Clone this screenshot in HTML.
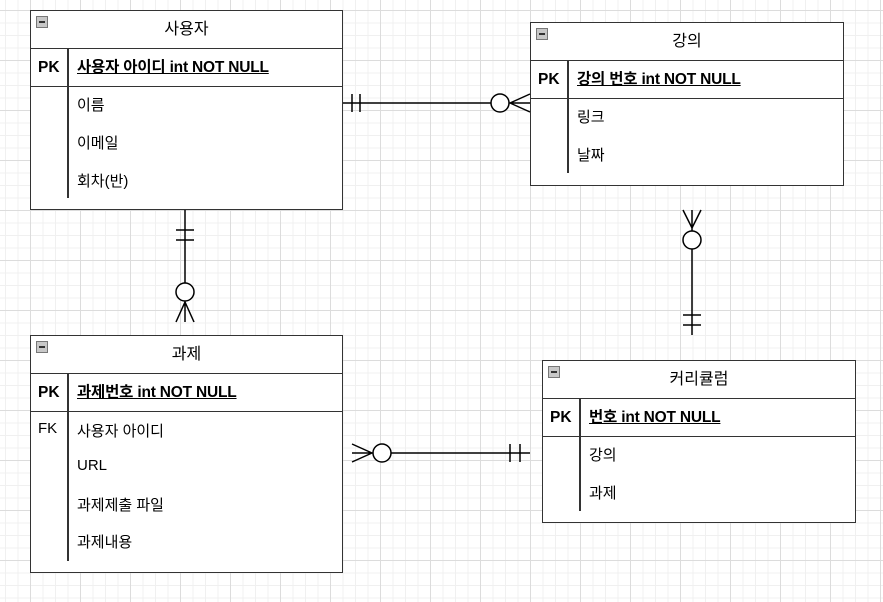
<!DOCTYPE html>
<html><head><meta charset="utf-8"><style>
body{margin:0;width:883px;height:602px;overflow:hidden;background:#fff;
background-image:linear-gradient(#dcdcdc 1px,transparent 1px),linear-gradient(90deg,#dcdcdc 1px,transparent 1px),linear-gradient(#f0f0f0 1px,transparent 1px),linear-gradient(90deg,#f0f0f0 1px,transparent 1px);
background-size:50px 50px,50px 50px,12.5px 12.5px,12.5px 12.5px;background-position:30px 10px,30px 10px,30px 10px,30px 10px;
font-family:"Liberation Sans","Noto Sans CJK KR",sans-serif;font-size:15px;color:#000}
.t{position:absolute;background:#fff;border:1.5px solid #333;box-sizing:border-box}
.h{height:37px;border-bottom:1.5px solid #333;text-align:center;line-height:38px;font-size:16px;position:relative}
.h i{position:absolute;left:5px;top:5px;width:10px;height:10px;border:1px solid #777;background:#c8c8c8}
.h i:after{content:"";position:absolute;left:2px;right:2px;top:4px;height:2px;background:#333}
.pk{height:37px;border-bottom:1.5px solid #333;position:relative;line-height:37px;font-weight:bold;font-size:15.5px}
.pk span{position:absolute;left:7px}
.pk u{position:absolute;left:46px;white-space:nowrap;letter-spacing:-0.2px}
.d{position:absolute;left:36px;width:1.5px;background:#333}
.r{position:absolute;left:46px;white-space:nowrap}
.k{position:absolute;left:7px}
</style></head><body>
<div class="t" style="left:30px;top:10px;width:313px;height:200px">
<div class="h"><i></i>사용자</div>
<div class="pk"><span>PK</span><u>사용자 아이디 int NOT NULL</u></div>
<div class="d" style="top:37px;height:150px"></div>
<div class="r" style="top:83px">이름</div><div class="r" style="top:121px">이메일</div><div class="r" style="top:159px">회차(반)</div>
</div>
<div class="t" style="left:530px;top:22px;width:314px;height:164px">
<div class="h"><i></i>강의</div>
<div class="pk"><span>PK</span><u>강의 번호 int NOT NULL</u></div>
<div class="d" style="top:37px;height:113px"></div>
<div class="r" style="top:83px">링크</div><div class="r" style="top:121px">날짜</div>
</div>
<div class="t" style="left:30px;top:335px;width:313px;height:238px">
<div class="h"><i></i>과제</div>
<div class="pk"><span>PK</span><u>과제번호 int NOT NULL</u></div>
<div class="d" style="top:37px;height:188px"></div>
<div class="k" style="top:84px">FK</div>
<div class="r" style="top:84px">사용자 아이디</div><div class="r" style="top:121px">URL</div><div class="r" style="top:158px">과제제출 파일</div><div class="r" style="top:195px">과제내용</div>
</div>
<div class="t" style="left:542px;top:360px;width:314px;height:163px">
<div class="h"><i></i>커리큘럼</div>
<div class="pk"><span>PK</span><u>번호 int NOT NULL</u></div>
<div class="d" style="top:37px;height:113px"></div>
<div class="r" style="top:83px">강의</div><div class="r" style="top:121px">과제</div>
</div>
<svg width="883" height="602" style="position:absolute;left:0;top:0" fill="none" stroke="#000" stroke-width="1.5">
<path d="M343 103H491M509 103H530M352 94V112M360 94V112M510 103L530 94M510 103L530 112"/>
<circle cx="500" cy="103" r="9" fill="#fff"/>
<path d="M185 210V283M185 301V322M176 230H194M176 240H194M185 302L176 322M185 302L194 322"/>
<circle cx="185" cy="292" r="9" fill="#fff"/>
<path d="M692 210V231M692 249V335M683 210L692 228L701 210M683 315H701M683 325H701"/>
<circle cx="692" cy="240" r="9" fill="#fff"/>
<path d="M352 453H373M391 453H530M372 453L352 444M372 453L352 462M510 444V462M520 444V462"/>
<circle cx="382" cy="453" r="9" fill="#fff"/>
</svg>
</body></html>
